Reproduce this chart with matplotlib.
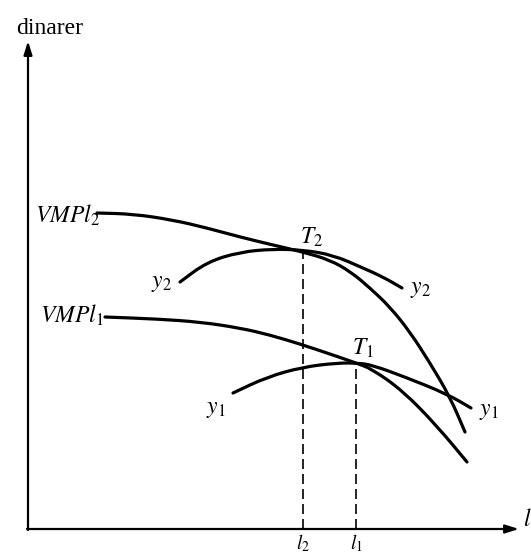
import matplotlib
matplotlib.use('Agg')
import matplotlib.pyplot as plt
from matplotlib.path import Path
from matplotlib.patches import PathPatch

plt.rcParams['font.family'] = ['Liberation Serif', 'DejaVu Serif']
plt.rcParams['mathtext.fontset'] = 'stix'

# curve points (origin at the axis corner)
vmp2_x = [69, 105, 145, 179, 212, 245, 275, 302, 323, 342, 362, 382, 402, 422, 437]
vmp2_y = [316, 315, 309, 301, 292, 284, 277, 269, 257, 241, 222, 197, 166, 132, 97]

vmp1_x = [77, 129, 172, 212, 242, 272, 302, 328, 344, 375, 409, 439]
vmp1_y = [212, 210, 207, 201, 194, 185, 175, 166, 160, 138, 103, 67]

y2_x = [152, 179, 212, 245, 275, 305, 335, 355, 374]
y2_y = [247, 267, 277, 280, 279, 274, 261, 252, 241]

y1_x = [205, 239, 275, 309, 329, 344, 377, 419, 443]
y1_y = [136, 152, 162, 166, 166, 164, 152, 135, 121]

# tangency points T2, T1 and their l values
t_x = [275, 328]
t_y = [278, 166]


def smooth_curve(ax, xs, ys, lw):
    # quadratic bezier through the midpoints, read points as controls
    pts = list(zip(xs, ys))
    verts = [pts[0]]
    codes = [Path.MOVETO]
    mid = lambda a, b: ((a[0] + b[0]) / 2, (a[1] + b[1]) / 2)
    verts.append(mid(pts[0], pts[1]))
    codes.append(Path.LINETO)
    for i in range(1, len(pts) - 1):
        verts += [pts[i], mid(pts[i], pts[i + 1])]
        codes += [Path.CURVE3, Path.CURVE3]
    verts.append(pts[-1])
    codes.append(Path.LINETO)
    ax.add_patch(PathPatch(Path(verts, codes), fill=False, lw=lw,
                           edgecolor='black', capstyle='round'))


fig = plt.figure(figsize=(5.31, 5.53), dpi=100)
ax = fig.add_axes([0, 0, 1, 1])
ax.set_xlim(-28, 503)
ax.set_ylim(-24, 529)
ax.axis('off')

lw = 2.3
for xs, ys in [(vmp2_x, vmp2_y), (vmp1_x, vmp1_y), (y2_x, y2_y), (y1_x, y1_y)]:
    smooth_curve(ax, xs, ys, lw)

for tx, ty in zip(t_x, t_y):
    ax.plot([tx, tx], [0, ty], color='black', lw=1.2, dashes=(6, 3))

# axes with arrows
arr = dict(arrowstyle='-|>,head_length=0.8,head_width=0.25', lw=1.6,
           color='black', shrinkA=0, shrinkB=0)
ax.annotate('', xy=(0, 488), xytext=(0, -1), arrowprops=arr)
ax.annotate('', xy=(491, 0), xytext=(-1, 0), arrowprops=arr)

fs = 17
ax.text(22, 500, 'dinarer', fontsize=17, ha='center', va='center')
ax.text(72, 314, '$VMPl_2$', fontsize=fs, ha='right', va='center')
ax.text(76, 214, '$VMPl_1$', fontsize=fs, ha='right', va='center')
ax.text(133, 245, '$y_2$', fontsize=fs, ha='center', va='center')
ax.text(392, 240, '$y_2$', fontsize=fs, ha='center', va='center')
ax.text(188, 120, '$y_1$', fontsize=fs, ha='center', va='center')
ax.text(461, 118, '$y_1$', fontsize=fs, ha='center', va='center')
ax.text(283, 292, '$T_2$', fontsize=fs, ha='center', va='center')
ax.text(335, 181, '$T_1$', fontsize=fs, ha='center', va='center')
ax.text(t_x[0], -3, '$l_2$', fontsize=14, ha='center', va='top')
ax.text(t_x[1], -3, '$l_1$', fontsize=14, ha='center', va='top')
ax.text(499, 9, '$l$', fontsize=fs, ha='center', va='center')

fig.savefig('out.png', dpi=100)
